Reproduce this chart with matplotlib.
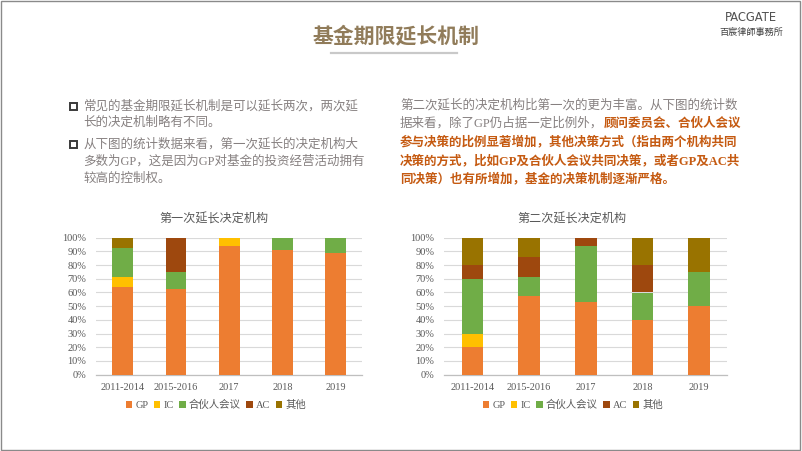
import matplotlib
matplotlib.use("Agg")
import matplotlib.pyplot as plt
from matplotlib.patches import Patch, Rectangle
from matplotlib.lines import Line2D
from matplotlib.ticker import PercentFormatter, MultipleLocator

plt.rcParams['font.family'] = ['Liberation Serif', 'Noto Sans CJK SC', 'DejaVu Sans']

# ---------------- data ----------------
categories = ['2011-2014', '2015-2016', '2017', '2018', '2019']
series_names = ['GP', 'IC', '合伙人会议', 'AC', '其他']
series_colors = ['#ED7D31', '#FFC000', '#70AD47', '#9E480E', '#997300']

first_gp = [64.3, 62.5, 94.1, 90.9, 88.9]
first_ic = [7.1, 0.0, 5.9, 0.0, 0.0]
first_partner = [21.4, 12.5, 0.0, 9.1, 11.1]
first_ac = [0.0, 25.0, 0.0, 0.0, 0.0]
first_other = [7.2, 0.0, 0.0, 0.0, 0.0]

second_gp = [20.0, 57.1, 52.9, 40.0, 50.0]
second_ic = [10.0, 0.0, 0.0, 0.0, 0.0]
second_partner = [40.0, 14.3, 41.2, 20.0, 25.0]
second_ac = [10.0, 14.3, 5.9, 20.0, 0.0]
second_other = [20.0, 14.3, 0.0, 20.0, 25.0]

chart1_title = '第一次延长决定机构'
chart2_title = '第二次延长决定机构'
page_title = '基金期限延长机制'

left_lines = ['常见的基金期限延长机制是可以延长两次，两次延',
              '长的决定机制略有不同。',
              '从下图的统计数据来看，第一次延长的决定机构大',
              '多数为GP，这是因为GP对基金的投资经营活动拥有',
              '较高的控制权。']
right_line1 = '第二次延长的决定机构比第一次的更为丰富。从下图的统计数'
right_line2_gray = '据来看，除了GP仍占据一定比例外，'
right_line2_orange = '顾问委员会、合伙人会议'
right_lines_orange = ['参与决策的比例显著增加，其他决策方式（指由两个机构共同',
                      '决策的方式，比如GP及合伙人会议共同决策，或者GP及AC共',
                      '同决策）也有所增加，基金的决策机制逐渐严格。']

# ---------------- figure ----------------
W, H = 802, 451
fig = plt.figure(figsize=(W / 100, H / 100), dpi=100)
fig.patch.set_facecolor('white')

def fx(px):
    return px / W

def fy(py):
    return 1 - py / H

# frame border
fig.add_artist(Rectangle((fx(1), fy(449.5)), fx(799.5) - fx(1), fy(1) - fy(449.5),
                         transform=fig.transFigure, fill=False, edgecolor='#8a8a8a', lw=1.0))

# page title + underline
fig.text(fx(396), fy(36), page_title, ha='center', va='center', fontsize=15,
         fontweight='bold', color='#917C5A', family=['Noto Sans CJK SC'])
fig.add_artist(Line2D([fx(331), fx(457)], [fy(53.3), fy(53.3)], transform=fig.transFigure,
                      color='#C9C9C9', lw=1.6))

# logo
fig.text(fx(751), fy(17.5), 'PACGATE', ha='center', va='center', fontsize=8.3,
         color='#505050', family=['DejaVu Sans'])
fig.text(fx(751), fy(32), '百宸律師事務所', ha='center', va='center', fontsize=6.6,
         color='#404040', family=['Noto Sans CJK TC'])

# left text
gray = '#868080'
orange = '#C55A11'
txt_family = ['Liberation Serif', 'Noto Sans CJK SC']
left_y = [106, 123, 144.5, 161.5, 178.5]
for i, (line, y) in enumerate(zip(left_lines, left_y)):
    fig.text(fx(83.5), fy(y), line, ha='left', va='center', fontsize=9, color=gray,
             family=txt_family)
for y in (left_y[0], left_y[2]):
    fig.add_artist(Rectangle((fx(70), fy(y + 3.5)), fx(7) , 7 / H,
                             transform=fig.transFigure, fill=False,
                             edgecolor='#3a3a3a', lw=1.4))

# right text
right_y = [105, 123.5, 142, 160.5, 179]
fig.text(fx(400), fy(right_y[0]), right_line1, ha='left', va='center', fontsize=9,
         color=gray, family=txt_family)
t_gray = fig.text(fx(400), fy(right_y[1]), right_line2_gray, ha='left', va='center',
                  fontsize=9, color=gray, family=txt_family)
renderer = fig.canvas.get_renderer()
bb = t_gray.get_window_extent(renderer=renderer)
fig.text(bb.x1 / W, fy(right_y[1]), right_line2_orange, ha='left', va='center',
         fontsize=9, color=orange, fontweight='bold', family=txt_family)
for line, y in zip(right_lines_orange, right_y[2:]):
    fig.text(fx(400), fy(y), line, ha='left', va='center', fontsize=9, color=orange,
             fontweight='bold', family=txt_family)

# ---------------- charts ----------------
def draw_chart(left_px, right_px, data, title, title_x, legend_x, bar_w):
    ax = fig.add_axes([fx(left_px), fy(374.7), fx(right_px) - fx(left_px), fy(237.7) - fy(374.7)])
    x = list(range(len(categories)))
    bottom = [0.0] * len(categories)
    for vals, color in zip(data, series_colors):
        v = [a / 100 for a in vals]
        ax.bar(x, v, bottom=bottom, width=bar_w, color=color, zorder=3)
        bottom = [b + a for b, a in zip(bottom, v)]
    ax.set_xlim(-0.5, len(categories) - 0.5)
    ax.set_ylim(0, 1)
    ax.yaxis.set_major_locator(MultipleLocator(0.1))
    ax.yaxis.set_major_formatter(PercentFormatter(1.0, decimals=0))
    ax.set_xticks(x)
    ax.set_xticklabels(categories)
    ax.grid(axis='y', color='#D9D9D9', lw=0.8, zorder=0)
    for s in ('top', 'left', 'right'):
        ax.spines[s].set_visible(False)
    ax.spines['bottom'].set_color('#BFBFBF')
    ax.spines['bottom'].set_linewidth(0.9)
    ax.tick_params(axis='y', length=0, pad=7, labelsize=7.5, labelcolor='#595959')
    ax.tick_params(axis='x', length=0, pad=6, labelsize=7.4, labelcolor='#595959')
    for lab in ax.get_yticklabels() + ax.get_xticklabels():
        lab.set_family(['Liberation Serif'])
    fig.text(fx(title_x), fy(219), title, ha='center', va='center', fontsize=8.7,
             color='#595959', family=['Noto Sans CJK SC'])
    handles = [Patch(facecolor=c, edgecolor='none') for c in series_colors]
    leg = fig.legend(handles, series_names, loc='center',
                     bbox_to_anchor=(fx(legend_x), fy(405)), ncol=5, frameon=False,
                     handlelength=0.6, handleheight=0.6, handletextpad=0.3,
                     columnspacing=0.55, fontsize=7.5, borderaxespad=0, borderpad=0)
    for t in leg.get_texts():
        t.set_color('#595959')
        t.set_family(['Liberation Serif', 'Noto Sans CJK SC'])
    return ax

draw_chart(96, 362.3,
           [first_gp, first_ic, first_partner, first_ac, first_other],
           chart1_title, 214, 216, 0.39)
draw_chart(444.2, 727.3,
           [second_gp, second_ic, second_partner, second_ac, second_other],
           chart2_title, 572, 573, 0.38)

fig.savefig('out.png', dpi=100, facecolor='white')
